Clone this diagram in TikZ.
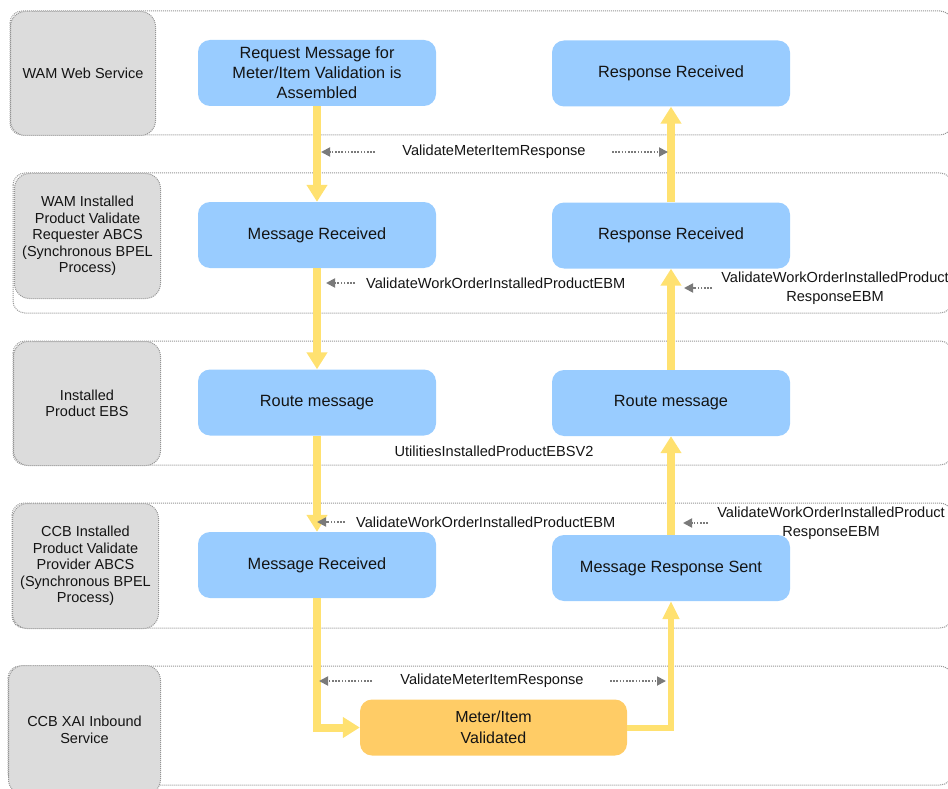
\documentclass[tikz,border=0pt]{standalone}
\usepackage{fontspec}
\setmainfont{Liberation Sans}
\usetikzlibrary{arrows.meta}
\definecolor{boxblue}{HTML}{99CCFF}
\definecolor{boxorange}{HTML}{FFCC66}
\definecolor{flowyellow}{HTML}{FFE170}
\definecolor{lanegray}{HTML}{DCDCDC}
\definecolor{lanedot}{HTML}{959595}
\definecolor{arrowgray}{HTML}{7A7A7A}
\definecolor{textdark}{HTML}{141414}
\begin{document}
\begin{tikzpicture}[x=1pt,y=-1pt,
  laneline/.style={draw=lanedot, line width=1pt, dash pattern=on 1pt off 1pt, rounded corners=12pt},
  lanelabel/.style={draw=lanedot, line width=1pt, dash pattern=on 1pt off 1pt, fill=lanegray,
     rounded corners=15pt, anchor=north west, align=center, inner sep=2pt,
     font=\fontsize{14.5}{16.5}\selectfont, text=textdark},
  bluebox/.style={fill=boxblue, draw=none, rounded corners=12pt, minimum width=238pt,
     minimum height=66pt, align=center, font=\fontsize{16.3}{20}\selectfont, text=textdark},
  orangebox/.style={fill=boxorange, draw=none, rounded corners=12pt, minimum width=267pt,
     minimum height=56pt, align=center, font=\fontsize{16}{21}\selectfont, text=textdark},
  yarrow/.style={draw=flowyellow, line width=8pt, line join=miter,
     -{Triangle[width=20pt,length=17pt]}},
  yarrowthin/.style={draw=flowyellow, line width=6pt, line join=miter,
     -{Triangle[width=16pt,length=18pt]}},
  darrow/.style={draw=arrowgray, line width=1.8pt, dash pattern=on 1.6pt off 1.6pt,
     -{Triangle[width=9pt,length=9pt]}},
  conlabel/.style={font=\fontsize{14.6}{19}\selectfont, inner sep=1pt, align=center, text=textdark}
]
\useasboundingbox (0,0) rectangle (948,789);

% lanes
\draw[laneline] (10,11) rectangle (952,135);
\draw[laneline] (13,173) rectangle (952,313);
\draw[laneline] (13,341) rectangle (952,465);
\draw[laneline] (12,503) rectangle (952,628);
\draw[laneline] (8,666) rectangle (952,785);

\node[lanelabel, minimum width=145pt, minimum height=124pt] (lane1) at (10,11) {WAM Web Service};
\node[lanelabel, minimum width=146pt, minimum height=125pt] (lane2) at (14,173) {WAM Installed\\Product Validate\\Requester ABCS\\(Synchronous BPEL\\Process)};
\node[lanelabel, minimum width=147pt, minimum height=124pt] (lane3) at (13,341) {Installed\\Product EBS};
\node[lanelabel, minimum width=146pt, minimum height=125pt] (lane4) at (12,503) {CCB Installed\\Product Validate\\Provider ABCS\\(Synchronous BPEL\\Process)};
\node[lanelabel, minimum width=152pt, minimum height=129pt] (lane5) at (8,665) {CCB XAI Inbound\\Service};

% process boxes
\node[bluebox] (b1) at (317,73) {Request Message for\\Meter/Item Validation is\\Assembled};
\node[bluebox] (b2) at (317,235) {Message Received};
\node[bluebox] (b3) at (317,402.5) {Route message};
\node[bluebox] (b4) at (317,565) {Message Received};
\node[bluebox] (r1) at (671,73.5) {Response Received};
\node[bluebox] (r2) at (671,235.5) {Response Received};
\node[bluebox] (r3) at (671,403) {Route message};
\node[bluebox] (r4) at (671,568) {Message Response Sent};
\node[orangebox] (ov) at (493.5,727.5) {Meter/Item\\Validated};

% yellow flow
\draw[yarrow] (b1.south) -- (b2.north);
\draw[yarrow] (b2.south) -- (b3.north);
\draw[yarrow] (b3.south) -- (b4.north);
\draw[yarrow] (b4.south) |- (ov.west);
\draw[yarrowthin] (ov.east) -| (r4.south);
\draw[yarrow] (r4.north) -- (r3.south);
\draw[yarrow] (r3.north) -- (r2.south);
\draw[yarrow] (r2.north) -- (r1.south);

% message labels and dotted arrows
\node[conlabel] (m1) at (494,152) {ValidateMeterItemResponse};
\coordinate (m1ls) at (375,152); \coordinate (m1lt) at (321,152);
\coordinate (m1rs) at (612,152); \coordinate (m1rt) at (668,152);
\draw[darrow] (m1ls) -- (m1lt);
\draw[darrow] (m1rs) -- (m1rt);

\node[conlabel, anchor=west] (m2) at (365,283) {ValidateWorkOrderInstalledProductEBM};
\coordinate (m2s) at (355,283); \coordinate (m2t) at (326,283);
\draw[darrow] (m2s) -- (m2t);

\node[conlabel] (m3) at (835,288) {ValidateWorkOrderInstalledProduct\\ResponseEBM};
\coordinate (m3s) at (712,288); \coordinate (m3t) at (684,288);
\draw[darrow] (m3s) -- (m3t);

\node[conlabel] (m4) at (494,451) {UtilitiesInstalledProductEBSV2};

\node[conlabel, anchor=west] (m5) at (355,522) {ValidateWorkOrderInstalledProductEBM};
\coordinate (m5s) at (345,522); \coordinate (m5t) at (317,522);
\draw[darrow] (m5s) -- (m5t);

\node[conlabel] (m6) at (831,523.5) {ValidateWorkOrderInstalledProduct\\ResponseEBM};
\coordinate (m6s) at (708,523); \coordinate (m6t) at (683,523);
\draw[darrow] (m6s) -- (m6t);

\node[conlabel] (m7) at (492,681) {ValidateMeterItemResponse};
\coordinate (m7ls) at (372,681); \coordinate (m7lt) at (319,681);
\coordinate (m7rs) at (610,681); \coordinate (m7rt) at (666,681);
\draw[darrow] (m7ls) -- (m7lt);
\draw[darrow] (m7rs) -- (m7rt);
\end{tikzpicture}
\end{document}
